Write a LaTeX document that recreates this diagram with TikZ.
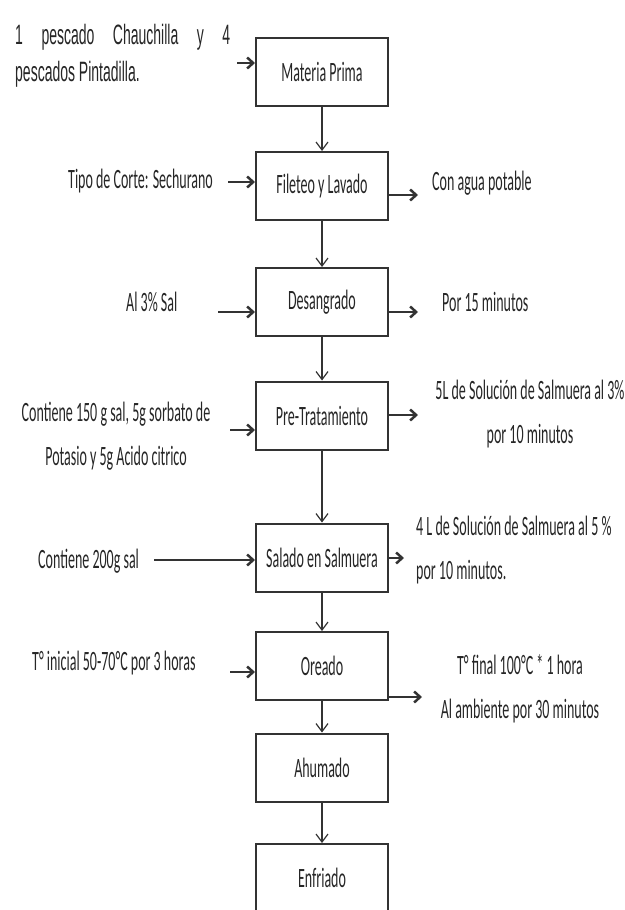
\documentclass[tikz,border=0pt]{standalone}
\usepackage{fontspec}
\setmainfont[FakeStretch=0.5]{Carlito}
\newfontfamily\arialangosta[FakeStretch=0.5]{Liberation Sans}
\usetikzlibrary{arrows.meta}

\tikzset{
	proceso/.style={draw=black!80, rectangle, line width=2pt, minimum width=132pt, minimum height=68pt, text=black!85, font=\fontsize{28}{34}\selectfont},
	nota/.style={inner sep=0pt, text=black!85, font=\fontsize{28}{44}\selectfont},
	flecha/.style={draw=black!80, line width=1.2pt, -{Straight Barb[length=8pt,width=12pt]}},
	lateral/.style={draw=black!80, line width=2.5pt, -{Straight Barb[length=6pt,width=11pt]}},
}

\begin{document}
\begin{tikzpicture}[x=1pt, y=-1pt]
		\useasboundingbox (0,0) rectangle (624,910);

		% etapas del proceso
		\node[proceso] (materia) at (322,71.5) {Materia Prima};
		\node[proceso] (fileteo) at (322,186) {Fileteo y Lavado};
		\node[proceso] (desangrado) at (322,302) {Desangrado};
		\node[proceso] (pretrat) at (322,415.5) {Pre-Tratamiento};
		\node[proceso] (salado) at (322,557.5) {Salado en Salmuera};
		\node[proceso] (oreado) at (322,666) {Oreado};
		\node[proceso] (ahumado) at (322,767.5) {Ahumado};
		\node[proceso] (enfriado) at (322,878) {Enfriado};

		\draw[flecha] (materia) -- (fileteo);
		\draw[flecha] (fileteo) -- (desangrado);
		\draw[flecha] (desangrado) -- (pretrat);
		\draw[flecha] (pretrat) -- (salado);
		\draw[flecha] (salado) -- (oreado);
		\draw[flecha] (oreado) -- (ahumado);
		\draw[flecha] (ahumado) -- (enfriado);

		% entradas (izquierda)
		\node[nota, anchor=north west, text width=215pt, align=justify, font=\arialangosta\fontsize{28}{37}\selectfont] (pescados) at (15,24) {1 pescado Chauchilla y 4\linebreak pescados Pintadilla.};
		\node[nota, anchor=base west] (corte) at (68,188) {Tipo de Corte: Sechurano};
		\node[nota, anchor=base west] (sal) at (126,311) {Al 3\% Sal};
		\node[nota, anchor=north, align=center] (contiene1) at (116,402) {Contiene 150 g sal, 5g sorbato de\\Potasio y 5g Acido citrico};
		\node[nota, anchor=base west] (contiene2) at (38,568) {Contiene 200g sal};
		\node[nota, anchor=base west] (tinicial) at (32,670) {T° inicial 50-70°C por 3 horas};

		\coordinate (inmateria) at (237,63);
		\coordinate (infileteo) at (228,182);
		\coordinate (indesangrado) at (218,312);
		\coordinate (inpretrat) at (230,430);
		\coordinate (insalado) at (154,560);
		\coordinate (inoreado) at (230,672);

		\draw[lateral] (inmateria) -- (inmateria -| materia.west);
		\draw[lateral] (infileteo) -- (infileteo -| fileteo.west);
		\draw[lateral] (indesangrado) -- (indesangrado -| desangrado.west);
		\draw[lateral] (inpretrat) -- (inpretrat -| pretrat.west);
		\draw[lateral] (insalado) -- (insalado -| salado.west);
		\draw[lateral] (inoreado) -- (inoreado -| oreado.west);

		% salidas (derecha)
		\node[nota, anchor=base west] (agua) at (432,190) {Con agua potable};
		\node[nota, anchor=base west] (minutos) at (442,311) {Por 15 minutos};
		\node[nota, anchor=north, align=center] (salmuera1) at (530,380) {5L de Solución de Salmuera al 3\%\\por 10 minutos};
		\node[nota, anchor=north west, align=left] (salmuera2) at (416,516) {4 L de Solución de Salmuera al 5 \%\\por 10 minutos.};
		\node[nota, anchor=north, align=center] (tfinal) at (520,654) {T° final 100°C * 1 hora\\Al ambiente por 30 minutos};

		\coordinate (outfileteo) at (418,195);
		\coordinate (outdesangrado) at (418,312);
		\coordinate (outpretrat) at (418,415);
		\coordinate (outsalado) at (404,558);
		\coordinate (outoreado) at (422,697);

		\draw[lateral] (outfileteo -| fileteo.east) -- (outfileteo);
		\draw[lateral] (outdesangrado -| desangrado.east) -- (outdesangrado);
		\draw[lateral] (outpretrat -| pretrat.east) -- (outpretrat);
		\draw[lateral] (outsalado -| salado.east) -- (outsalado);
		\draw[lateral] (outoreado -| oreado.east) -- (outoreado);
	\end{tikzpicture}
\end{document}
